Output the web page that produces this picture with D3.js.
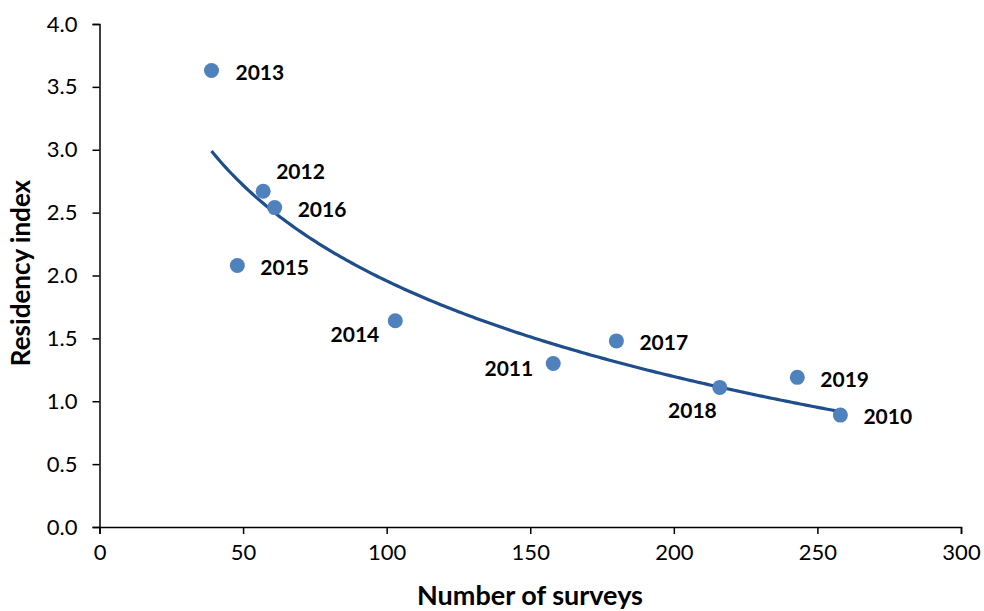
<!DOCTYPE html>
<html>
<head>
<meta charset="utf-8">
<script src="https://cdn.jsdelivr.net/npm/d3@7"></script>
<style>
  body { margin: 0; background: #fff; }
  text { font-family: Lato, "Open Sans", sans-serif; }
</style>
</head>
<body>
<svg id="chart" width="984" height="611"></svg>
<script>
// Data
const years = ["2013", "2012", "2016", "2015", "2014", "2011", "2017", "2018", "2019", "2010"];
const surveys = [39, 57, 61, 48, 103, 158, 180, 216, 243, 258];
const residency = [3.63, 2.67, 2.54, 2.08, 1.64, 1.30, 1.48, 1.11, 1.19, 0.89];
const xTicks = [0, 50, 100, 150, 200, 250, 300];
const yTicks = [0, 0.5, 1.0, 1.5, 2.0, 2.5, 3.0, 3.5, 4.0];

// label placement (dx, dy from the dot centre)
const labelOffset = {
  "2013": [24, 2, "start"], "2012": [13, -20, "start"], "2016": [23, 2, "start"],
  "2015": [23, 2, "start"], "2014": [-16, 14, "end"], "2011": [-20, 5, "end"],
  "2017": [23, 2, "start"], "2018": [-3, 23, "end"], "2019": [23, 2, "start"],
  "2010": [23, 2, "start"]
};

const svg = d3.select("#chart");
const x = d3.scaleLinear().domain([0, 300]).range([99.5, 961]);
const y = d3.scaleLinear().domain([0, 4]).range([527, 24]);

const data = years.map((yr, i) => ({ year: yr, x: surveys[i], y: residency[i] }));

// logarithmic trendline, least squares on ln(x)
const lx = surveys.map(Math.log);
const mx = d3.mean(lx), my = d3.mean(residency);
const b = d3.sum(lx, (v, i) => (v - mx) * (residency[i] - my)) / d3.sum(lx, v => (v - mx) ** 2);
const a = my - b * mx;
const xs = d3.range(d3.min(surveys), d3.max(surveys) + 0.01, 1);

// axes
svg.append("g")
  .attr("transform", "translate(0,527)")
  .call(d3.axisBottom(x).tickValues(xTicks).tickSize(7).tickPadding(10).tickFormat(d3.format("d")))
  .call(g => g.selectAll("text").attr("font-size", 22).attr("fill", "#000"))
  .call(g => g.selectAll("line,path").attr("stroke", "#000").attr("stroke-width", 1.5));

svg.append("g")
  .attr("transform", "translate(99.5,0)")
  .call(d3.axisLeft(y).tickValues(yTicks).tickSize(7).tickPadding(15).tickFormat(d3.format(".1f")))
  .call(g => g.selectAll("text").attr("font-size", 22).attr("fill", "#000"))
  .call(g => g.selectAll("line,path").attr("stroke", "#000").attr("stroke-width", 1.5));

// trendline
svg.append("path")
  .datum(xs)
  .attr("d", d3.line().x(d => x(d)).y(d => y(a + b * Math.log(d))))
  .attr("fill", "none")
  .attr("stroke", "#1F4E8C")
  .attr("stroke-width", 3.2);

// points
svg.append("g")
  .selectAll("circle")
  .data(data)
  .join("circle")
  .attr("cx", d => x(d.x))
  .attr("cy", d => y(d.y))
  .attr("r", 7.5)
  .attr("fill", "#4F81BD");

// labels
svg.append("g")
  .selectAll("text")
  .data(data)
  .join("text")
  .attr("x", d => x(d.x) + labelOffset[d.year][0])
  .attr("y", d => y(d.y) + labelOffset[d.year][1])
  .attr("dy", "0.35em")
  .attr("text-anchor", d => labelOffset[d.year][2])
  .attr("font-size", 21)
  .attr("font-weight", "bold")
  .attr("fill", "#000")
  .text(d => d.year);

// axis titles
svg.append("text")
  .attr("x", 530).attr("y", 605)
  .attr("text-anchor", "middle")
  .attr("font-size", 27).attr("font-weight", "bold")
  .text("Number of surveys");

svg.append("text")
  .attr("transform", "translate(30,273) rotate(-90)")
  .attr("text-anchor", "middle")
  .attr("font-size", 26).attr("font-weight", "bold")
  .text("Residency index");
</script>
</body>
</html>
